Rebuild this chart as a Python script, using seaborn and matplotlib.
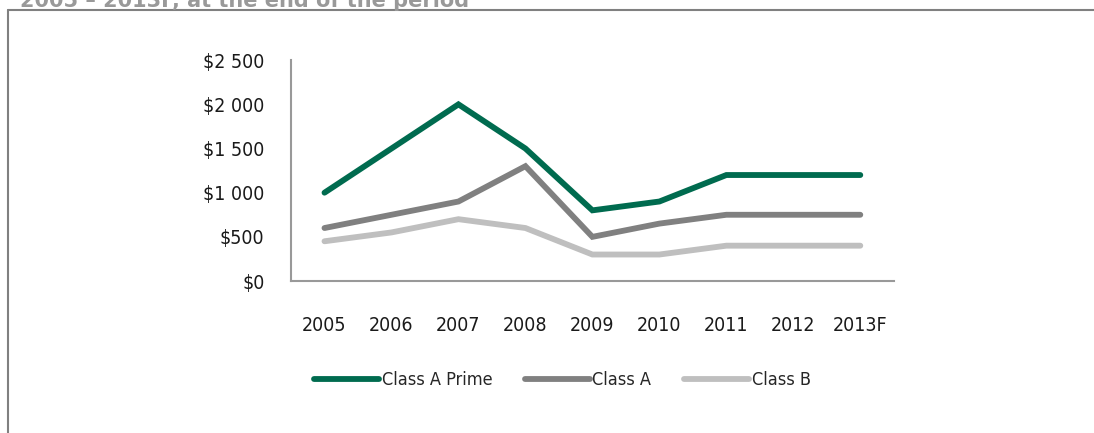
import pandas as pd
import matplotlib
matplotlib.use("Agg")
import matplotlib.pyplot as plt
import seaborn as sns
from matplotlib.lines import Line2D

years = ["2005", "2006", "2007", "2008", "2009", "2010", "2011", "2012", "2013F"]
class_a_prime = [1000, 1500, 2000, 1500, 800, 900, 1200, 1200, 1200]
class_a = [600, 750, 900, 1300, 500, 650, 750, 750, 750]
class_b = [450, 550, 700, 600, 300, 300, 400, 400, 400]
series_names = ["Class A Prime", "Class A", "Class B"]
y_ticks = [0, 500, 1000, 1500, 2000, 2500]
y_tick_labels = ["$0", "$500", "$1 000", "$1 500", "$2 000", "$2 500"]
title = "2005 \u2013 2013F, at the end of the period"

colors = {"Class A Prime": "#006B4F", "Class A": "#808080", "Class B": "#BFBFBF"}


def build_frame():
    records = []
    for name, values in zip(series_names, [class_a_prime, class_a, class_b]):
        for i, (yr, v) in enumerate(zip(years, values)):
            records.append({"pos": i, "Year": yr, "Rent": v, "Class": name})
    return pd.DataFrame(records)


df = build_frame()

sns.set_theme(style="white")
plt.rcParams["font.family"] = ["DejaVu Sans"]
plt.rcParams["font.stretch"] = "condensed"

fig = plt.figure(figsize=(10.94, 4.33), dpi=100)
ax = fig.add_axes([0.266, 0.351, 0.551, 0.510])

sns.lineplot(data=df, x="pos", y="Rent", hue="Class", hue_order=series_names,
             palette=colors, linewidth=4.2, ax=ax, legend=False,
             solid_capstyle="round", solid_joinstyle="miter")

ax.set_xlim(-0.5, len(years) - 0.5)
ax.set_ylim(0, 2500)
ax.set_xticks(range(len(years)))
ax.set_xticklabels(years)
ax.set_yticks(y_ticks)
ax.set_yticklabels(y_tick_labels)
ax.set_xlabel("")
ax.set_ylabel("")
ax.tick_params(axis="both", length=0, labelsize=14, colors="#1a1a1a")
ax.tick_params(axis="x", pad=25)
ax.tick_params(axis="y", pad=19)
for side in ["top", "right"]:
    ax.spines[side].set_visible(False)
for side in ["left", "bottom"]:
    ax.spines[side].set_color("#999999")
    ax.spines[side].set_linewidth(1.5)

handles = [Line2D([0], [0], color=colors[n], linewidth=4.2, solid_capstyle="round")
           for n in series_names]
fig.legend(handles, series_names, loc="center", bbox_to_anchor=(0.514, 0.122),
           ncol=3, frameon=False, fontsize=13, handlelength=3.6,
           handletextpad=0.15, columnspacing=1.8)

# frame of the original exhibit (top and left edges only)
fig.add_artist(Line2D([8 / 1094, 1.0], [1 - 10 / 433, 1 - 10 / 433],
                      transform=fig.transFigure, color="#808080", linewidth=1.5))
fig.add_artist(Line2D([8 / 1094, 8 / 1094], [0.0, 1 - 10 / 433],
                      transform=fig.transFigure, color="#808080", linewidth=1.5))

fig.text(20 / 1094, 1 - 7 / 433, title, fontsize=15, fontweight="bold",
         color="#999999", va="baseline", ha="left", fontstretch="normal")

fig.savefig("out.png", dpi=100)
plt.close(fig)
